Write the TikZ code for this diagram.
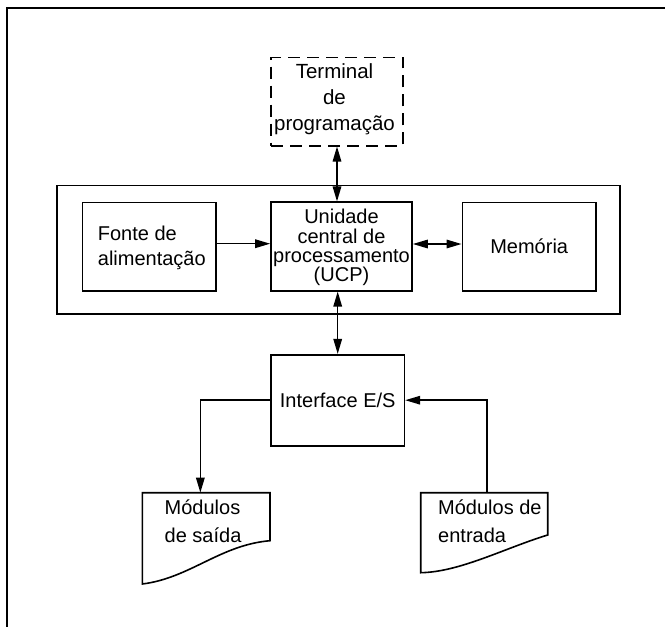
\documentclass[tikz,border=0pt]{standalone}
\usepackage{fontspec}
\setmainfont{Liberation Sans}
\usetikzlibrary{arrows.meta,calc}

\begin{document}
\begin{tikzpicture}[x=1pt,y=-1pt,
  box/.style={draw, line width=1.6pt, inner sep=0pt, anchor=center},
  dashbox/.style={box, dash pattern=on 12pt off 7pt},
  region/.style={inner sep=0pt, anchor=north west},
  lbl/.style={inner sep=0pt, font=\fontsize{20}{25}\selectfont},
  arr/.style={line width=1.5pt, -{Triangle[length=15pt,width=8.5pt]}},
  darr/.style={line width=1.5pt, {Triangle[length=15pt,width=8.5pt]}-{Triangle[length=15pt,width=8.5pt]}},
  doc/.style={line width=1.6pt, line join=miter}]
\useasboundingbox (0,0) rectangle (665,627);

% page frame (top and left edges)
\draw[line width=2.2pt] (665,8.3) -- (6.8,8.3) -- (6.8,627);

% programming terminal
\node[dashbox, minimum width=131.6pt, minimum height=88.4pt] (term) at (337,101.5) {};
\node[lbl, align=center, anchor=base, font=\fontsize{20.5}{26}\selectfont] (termtxt) at (334.5,130.3)
  {Terminal\\de\\programação};

% controller enclosure
\node[box, minimum width=563pt, minimum height=128.7pt] (outer) at (338.5,249.7) {};

\node[box, minimum width=133.4pt, minimum height=88.7pt] (fonte) at (149,246.7) {};
\node[lbl, align=left, anchor=base west] (fontetxt) at (97.7,265) {Fonte de\\alimentação};

\node[box, minimum width=141pt, minimum height=88.5pt] (ucp) at (341.5,246.5) {};
\node[lbl, align=center, anchor=base, font=\fontsize{20}{19.3}\selectfont] (ucptxt) at (341.5,281.7)
  {Unidade\\central de\\processamento\\(UCP)};

\node[box, minimum width=133.7pt, minimum height=88.6pt, font=\fontsize{20}{25}\selectfont] (mem) at (529.2,246.6) {Memória};

% I/O interface
\node[box, minimum width=133.3pt, minimum height=91pt, font=\fontsize{20}{25}\selectfont] (iface) at (337.7,400.2) {Interface E/S};

% output and input modules (document shapes)
\node[region, minimum width=127.7pt, minimum height=91.3pt] (saida) at (142.3,492.7) {};
\draw[doc] (142.3,492.7) -- (270,492.7) -- (270,540.7)
  .. controls (220,545) and (190,578) .. (142.3,584) -- cycle;
\node[lbl, align=left, anchor=base west, font=\fontsize{20}{28}\selectfont] (saidatxt) at (164.5,542.3)
  {Módulos\\de saída};

\node[region, minimum width=127pt, minimum height=80pt] (entrada) at (420.7,492.7) {};
\draw[doc] (420.7,492.7) -- (547.7,492.7) -- (547.7,535)
  .. controls (505,548) and (460,572) .. (420.7,572.7) -- cycle;
\node[lbl, align=left, anchor=base west, font=\fontsize{20}{27.5}\selectfont] (entradatxt) at (438,542.3)
  {Módulos de\\entrada};

% connections
\draw[darr] (term.south) -- (term.south |- ucp.north);
\draw[arr] ([yshift=3pt]fonte.east) -- ([yshift=3pt]fonte.east -| ucp.west);
\draw[darr] ([yshift=2.5pt]ucp.east) -- ([yshift=2.5pt]ucp.east -| mem.west);
\draw[darr] (iface.north |- ucp.south) -- (iface.north);
\draw[arr] (iface.west) -| ([xshift=-6pt]saida.north);
\draw[arr] ([xshift=2.5pt]entrada.north) |- (iface.east);
\end{tikzpicture}
\end{document}
